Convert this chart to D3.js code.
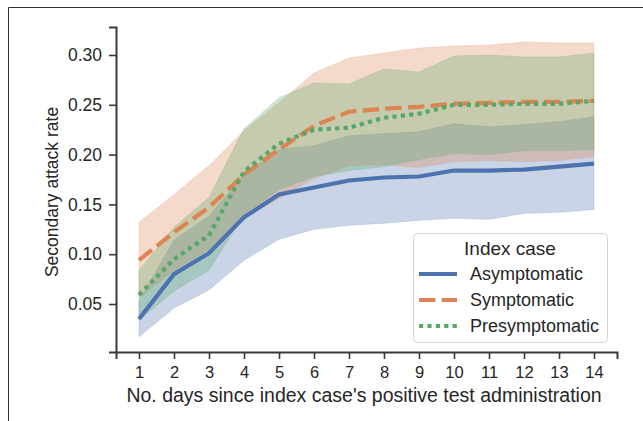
<!DOCTYPE html>
<html>
<head>
<meta charset="utf-8">
<script src="https://cdn.jsdelivr.net/npm/d3@7"></script>
<style>
  body { margin: 0; background: #fff; }
  text { font-family: "Liberation Sans", Arial, sans-serif; fill: #262626; }
</style>
</head>
<body>
<div id="chart"></div>
<script>
var days = [1, 2, 3, 4, 5, 6, 7, 8, 9, 10, 11, 12, 13, 14];

var asymMean = [0.035, 0.080, 0.101, 0.137, 0.160, 0.167, 0.174, 0.177, 0.178, 0.184, 0.184, 0.185, 0.188, 0.191];
var asymLow  = [0.017, 0.046, 0.064, 0.094, 0.115, 0.125, 0.129, 0.131, 0.134, 0.136, 0.135, 0.141, 0.142, 0.145];
var asymHigh = [0.053, 0.114, 0.138, 0.180, 0.205, 0.209, 0.219, 0.221, 0.223, 0.231, 0.228, 0.230, 0.233, 0.238];

var sympMean = [0.094, 0.122, 0.147, 0.180, 0.205, 0.229, 0.243, 0.246, 0.248, 0.251, 0.252, 0.253, 0.253, 0.254];
var sympLow  = [0.056, 0.084, 0.105, 0.136, 0.156, 0.176, 0.189, 0.190, 0.187, 0.193, 0.194, 0.193, 0.194, 0.198];
var sympHigh = [0.132, 0.160, 0.189, 0.224, 0.252, 0.282, 0.297, 0.302, 0.307, 0.309, 0.310, 0.313, 0.312, 0.312];

var presMean = [0.059, 0.095, 0.119, 0.183, 0.211, 0.225, 0.227, 0.237, 0.241, 0.250, 0.250, 0.251, 0.251, 0.254];
var presLow  = [0.034, 0.063, 0.084, 0.140, 0.165, 0.178, 0.184, 0.188, 0.195, 0.201, 0.200, 0.204, 0.204, 0.205];
var presHigh = [0.084, 0.127, 0.157, 0.226, 0.257, 0.272, 0.271, 0.286, 0.283, 0.299, 0.300, 0.298, 0.298, 0.302];

var seriesNames = ["Asymptomatic", "Symptomatic", "Presymptomatic"];
var yTicks = [0.05, 0.10, 0.15, 0.20, 0.25, 0.30];

var colors = ["#4c72b0", "#dd8452", "#55a868"];
var dashes = [null, "16.5,6.2", "4.2,4.2"];

var series = [
  { name: seriesNames[0], mean: asymMean, lo: asymLow, hi: asymHigh },
  { name: seriesNames[1], mean: sympMean, lo: sympLow, hi: sympHigh },
  { name: seriesNames[2], mean: presMean, lo: presLow, hi: presHigh }
];

var width = 643, height = 421;

var svg = d3.select("#chart").append("svg")
  .attr("width", width)
  .attr("height", height);

// outer frame (only top and left edges show)
svg.append("path")
  .attr("d", "M8.5,421V7.5H643")
  .attr("fill", "none")
  .attr("stroke", "#333")
  .attr("stroke-width", 1);

// scales pinned from the tick positions
var x = d3.scaleLinear().domain([1, 14]).range([139, 594]);
var y = d3.scaleLinear().domain([0.05, 0.30]).range([304, 55]);
x.domain([x.invert(116), x.invert(617)]).range([116, 617]);
y.domain([y.invert(352), y.invert(27)]).range([352, 27]);

var area = function(s) {
  return d3.area()
    .x(function(d, i) { return x(days[i]); })
    .y0(function(d, i) { return y(s.lo[i]); })
    .y1(function(d, i) { return y(s.hi[i]); });
};

var line = function(s) {
  return d3.line()
    .x(function(d, i) { return x(days[i]); })
    .y(function(d, i) { return y(s.mean[i]); });
};

// bands first, lines on top
series.forEach(function(s, k) {
  svg.append("path")
    .attr("d", area(s)(days))
    .attr("fill", colors[k])
    .attr("fill-opacity", 0.3)
    .attr("stroke", colors[k])
    .attr("stroke-opacity", 0.2)
    .attr("stroke-width", 1);
});

series.forEach(function(s, k) {
  svg.append("path")
    .attr("d", line(s)(days))
    .attr("fill", "none")
    .attr("stroke", colors[k])
    .attr("stroke-width", 4.2)
    .attr("stroke-dasharray", dashes[k]);
});

// axes
var xAxis = svg.append("g")
  .attr("transform", "translate(0,352)")
  .call(d3.axisBottom(x).tickValues(days).tickSizeOuter(0).tickSize(7).tickPadding(7));

var yAxis = svg.append("g")
  .attr("transform", "translate(116,0)")
  .call(d3.axisLeft(y).tickValues(yTicks).tickFormat(d3.format(".2f")).tickSizeOuter(0).tickSize(7).tickPadding(7));

[xAxis, yAxis].forEach(function(a) {
  a.select(".domain").attr("stroke", "#3a3a3a").attr("stroke-width", 2);
  a.selectAll(".tick line").attr("stroke", "#3a3a3a").attr("stroke-width", 1.6);
  a.selectAll(".tick text")
    .attr("font-family", "Liberation Sans, Arial, sans-serif")
    .attr("fill", "#3a3a3a");
});
xAxis.selectAll(".tick text").attr("font-size", 16.5);
yAxis.selectAll(".tick text").attr("font-size", 17.5);

svg.append("text")
  .attr("x", 364)
  .attr("y", 402)
  .attr("text-anchor", "middle")
  .attr("font-size", 19.5)
  .attr("fill", "#3a3a3a")
  .text("No. days since index case's positive test administration");

svg.append("text")
  .attr("transform", "translate(58,192) rotate(-90)")
  .attr("text-anchor", "middle")
  .attr("font-size", 17.5)
  .attr("fill", "#3a3a3a")
  .text("Secondary attack rate");

// legend
var legend = svg.append("g").attr("transform", "translate(413,233)");

legend.append("rect")
  .attr("x", 0.5)
  .attr("y", 0.5)
  .attr("width", 194)
  .attr("height", 109)
  .attr("rx", 4)
  .attr("fill", "#fff")
  .attr("fill-opacity", 0.8)
  .attr("stroke", "#d5d5d5")
  .attr("stroke-width", 1);

legend.append("text")
  .attr("x", 97)
  .attr("y", 22)
  .attr("text-anchor", "middle")
  .attr("font-size", 19)
  .attr("fill", "#3a3a3a")
  .text("Index case");

series.forEach(function(s, k) {
  var ly = 41 + k * 26;
  legend.append("line")
    .attr("x1", 6)
    .attr("x2", 44)
    .attr("y1", ly)
    .attr("y2", ly)
    .attr("stroke", colors[k])
    .attr("stroke-width", 4.2)
    .attr("stroke-dasharray", dashes[k]);
  legend.append("text")
    .attr("x", 57)
    .attr("y", ly + 6)
    .attr("font-size", 18)
    .attr("fill", "#3a3a3a")
    .text(s.name);
});
</script>
</body>
</html>
